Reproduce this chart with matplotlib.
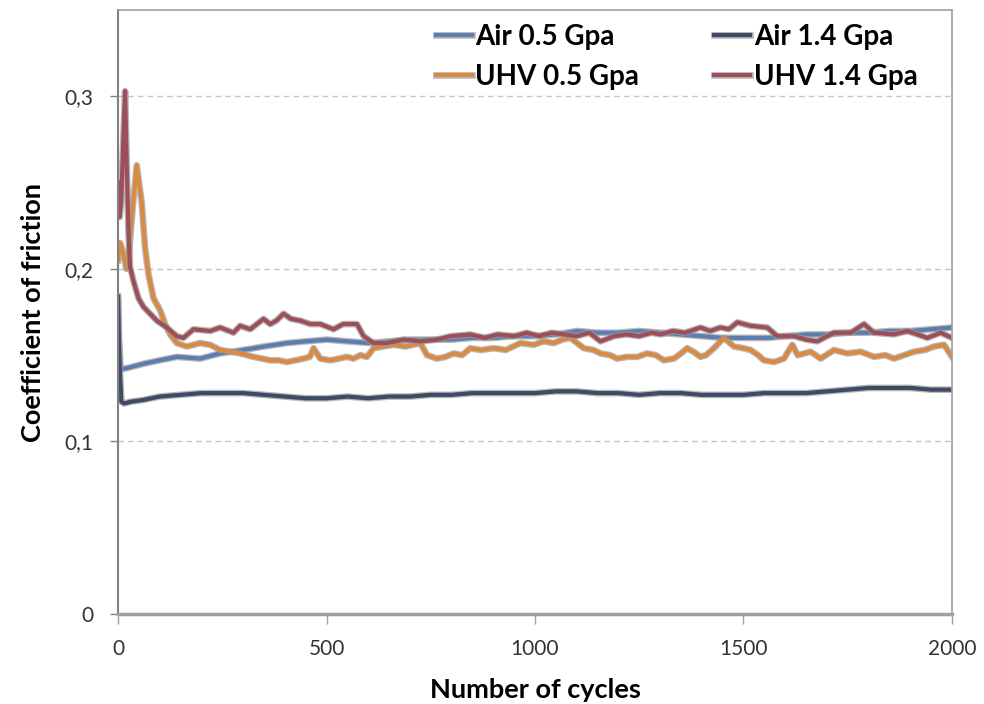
import matplotlib
matplotlib.use("Agg")
import matplotlib.pyplot as plt
import matplotlib.patheffects as pe

plt.rcParams['font.family'] = ['Lato', 'DejaVu Sans']

# Air 0.5 GPa
air05_x = [0, 2, 6, 12, 30, 61, 100, 141, 197, 245, 300, 350, 405, 450, 501, 550, 605, 650, 700,
           750, 800, 850, 900, 950, 1000, 1050, 1102, 1150, 1200, 1250, 1300, 1350, 1400, 1450,
           1500, 1560, 1600, 1650, 1700, 1750, 1800, 1850, 1900, 1950, 2000]
air05_y = [0.183, 0.16, 0.143, 0.142, 0.143, 0.145, 0.147, 0.149, 0.148, 0.151, 0.153, 0.155,
           0.157, 0.158, 0.159, 0.158, 0.157, 0.158, 0.159, 0.159, 0.159, 0.160, 0.160, 0.161,
           0.161, 0.162, 0.164, 0.163, 0.163, 0.164, 0.163, 0.162, 0.161, 0.160, 0.160, 0.160,
           0.161, 0.162, 0.162, 0.163, 0.163, 0.164, 0.164, 0.165, 0.166]

# Air 1.4 GPa
air14_x = [0, 3, 8, 15, 30, 60, 100, 150, 200, 250, 300, 350, 400, 450, 500, 550, 600, 650,
           700, 750, 800, 850, 900, 950, 1000, 1050, 1100, 1150, 1200, 1250, 1300, 1350, 1400,
           1450, 1500, 1550, 1600, 1650, 1700, 1750, 1800, 1850, 1900, 1950, 2000]
air14_y = [0.184, 0.15, 0.123, 0.122, 0.123, 0.124, 0.126, 0.127, 0.128, 0.128, 0.128, 0.127,
           0.126, 0.125, 0.125, 0.126, 0.125, 0.126, 0.126, 0.127, 0.127, 0.128, 0.128, 0.128,
           0.128, 0.129, 0.129, 0.128, 0.128, 0.127, 0.128, 0.128, 0.127, 0.127, 0.127, 0.128,
           0.128, 0.128, 0.129, 0.130, 0.131, 0.131, 0.131, 0.130, 0.130]

# UHV 0.5 GPa
uhv05_x = [0, 5, 12, 20, 25, 35, 45, 57, 65, 73, 85, 101, 113, 125, 141, 165, 197, 221, 245,
           270, 293, 325, 345, 365, 385, 405, 425, 445, 460, 469, 485, 509, 530, 549, 565,
           581, 597, 613, 635, 661, 690, 725, 741, 765, 785, 805, 825, 845, 870, 901, 930,
           965, 997, 1020, 1045, 1065, 1085, 1117, 1140, 1157, 1180, 1197, 1220, 1245, 1269,
           1290, 1309, 1333, 1350, 1365, 1380, 1397, 1410, 1429, 1453, 1477, 1500, 1517, 1535,
           1549, 1573, 1597, 1617, 1630, 1661, 1685, 1717, 1749, 1781, 1813, 1840, 1861, 1885,
           1909, 1935, 1957, 1981, 2000]
uhv05_y = [0.205, 0.215, 0.21, 0.20, 0.205, 0.235, 0.260, 0.238, 0.212, 0.197, 0.183, 0.176,
           0.168, 0.162, 0.157, 0.155, 0.157, 0.156, 0.153, 0.152, 0.151, 0.149, 0.148, 0.147,
           0.147, 0.146, 0.147, 0.148, 0.149, 0.154, 0.148, 0.147, 0.148, 0.149, 0.148, 0.150,
           0.149, 0.154, 0.155, 0.156, 0.155, 0.157, 0.150, 0.148, 0.149, 0.151, 0.150, 0.154,
           0.153, 0.154, 0.153, 0.157, 0.156, 0.158, 0.157, 0.159, 0.160, 0.154, 0.153, 0.151,
           0.150, 0.148, 0.149, 0.149, 0.151, 0.150, 0.147, 0.148, 0.151, 0.154, 0.152, 0.149,
           0.150, 0.154, 0.160, 0.155, 0.154, 0.153, 0.150, 0.147, 0.146, 0.148, 0.156, 0.150,
           0.152, 0.148, 0.153, 0.151, 0.152, 0.149, 0.150, 0.148, 0.150, 0.152, 0.153, 0.155,
           0.156, 0.149]

# UHV 1.4 GPa
uhv14_x = [0, 4, 8, 12, 17, 21, 25, 29, 37, 49, 61, 77, 93, 117, 141, 157, 181, 221, 245,
           277, 293, 317, 349, 365, 380, 397, 415, 437, 461, 485, 517, 540, 573, 589, 613,
           645, 685, 725, 765, 797, 845, 880, 910, 950, 980, 1010, 1040, 1070, 1100, 1130,
           1157, 1190, 1220, 1250, 1280, 1301, 1330, 1360, 1397, 1420, 1445, 1465, 1485, 1517,
           1557, 1581, 1621, 1650, 1677, 1717, 1757, 1789, 1813, 1861, 1893, 1941, 1973, 2000]
uhv14_y = [0.25, 0.23, 0.24, 0.27, 0.303, 0.26, 0.222, 0.201, 0.193, 0.183, 0.178, 0.174,
           0.170, 0.166, 0.161, 0.160, 0.165, 0.164, 0.166, 0.163, 0.167, 0.165, 0.171, 0.168,
           0.170, 0.174, 0.171, 0.170, 0.168, 0.168, 0.165, 0.168, 0.168, 0.161, 0.157, 0.157,
           0.159, 0.158, 0.159, 0.161, 0.162, 0.160, 0.162, 0.161, 0.163, 0.161, 0.163, 0.162,
           0.161, 0.163, 0.158, 0.161, 0.162, 0.161, 0.163, 0.162, 0.164, 0.163, 0.166, 0.164,
           0.166, 0.165, 0.169, 0.167, 0.166, 0.161, 0.161, 0.159, 0.158, 0.163, 0.163, 0.168,
           0.163, 0.162, 0.164, 0.160, 0.163, 0.160]

labels = ['Air 0.5 Gpa', 'UHV 0.5 Gpa', 'Air 1.4 Gpa', 'UHV 1.4 Gpa']
colors = ['#5b7db0', '#d98a40', '#3f4b65', '#9c4f58']
xticks = [0, 500, 1000, 1500, 2000]
yticks = [0, 0.1, 0.2, 0.3]
ytick_labels = ['0', '0,1', '0,2', '0,3']

fig = plt.figure(figsize=(9.84, 7.04), dpi=100)
ax = fig.add_axes([118/984, 90/704, 834/984, 604/704])

edge = [pe.Stroke(linewidth=4.8, foreground='#9a9a9a', alpha=0.7), pe.Normal()]
series = [(air05_x, air05_y), (uhv05_x, uhv05_y), (air14_x, air14_y), (uhv14_x, uhv14_y)]
draw_order = [0, 2, 1, 3]
handles = [None] * 4
for i in draw_order:
    xs, ys = series[i]
    ln, = ax.plot(xs, ys, color=colors[i], lw=3.0, solid_joinstyle='round',
                  path_effects=edge, label=labels[i])
    handles[i] = ln

ax.set_xlim(0, 2000)
ax.set_ylim(0, 0.35)
ax.set_xticks(xticks)
ax.set_yticks(yticks)
ax.set_yticklabels(ytick_labels)
ax.grid(axis='y', color='#c4c4c4', linestyle=(0, (4, 3)), lw=1)
ax.set_axisbelow(True)

for s in ['top', 'right']:
    ax.spines[s].set_color('#a0a0a0')
    ax.spines[s].set_linewidth(1.2)
ax.spines['left'].set_color('#808080')
ax.spines['left'].set_linewidth(1.5)
ax.spines['bottom'].set_color('#a0a0a0')
ax.spines['bottom'].set_linewidth(2.5)

ax.tick_params(axis='y', direction='out', length=6, width=1, color='#808080', pad=12,
               labelsize=15, labelcolor='#333333')
ax.tick_params(axis='x', direction='out', length=7, width=1, color='#a0a0a0', pad=11,
               labelsize=15, labelcolor='#333333')

ax.set_xlabel('Number of cycles', fontsize=19.5, fontweight='bold', labelpad=14)
ax.set_ylabel('Coefficient of friction', fontsize=19.5, fontweight='bold', labelpad=14)

ax.legend(handles=handles, ncol=2, frameon=False, loc='upper left',
          bbox_to_anchor=(436/984, 1 - 24/704), bbox_transform=fig.transFigure,
          prop={'weight': 'bold', 'size': 20}, handlelength=1.3, handletextpad=0.12,
          columnspacing=2.7, labelspacing=0.5, borderpad=0, borderaxespad=0)

fig.savefig('out.png', dpi=100)
